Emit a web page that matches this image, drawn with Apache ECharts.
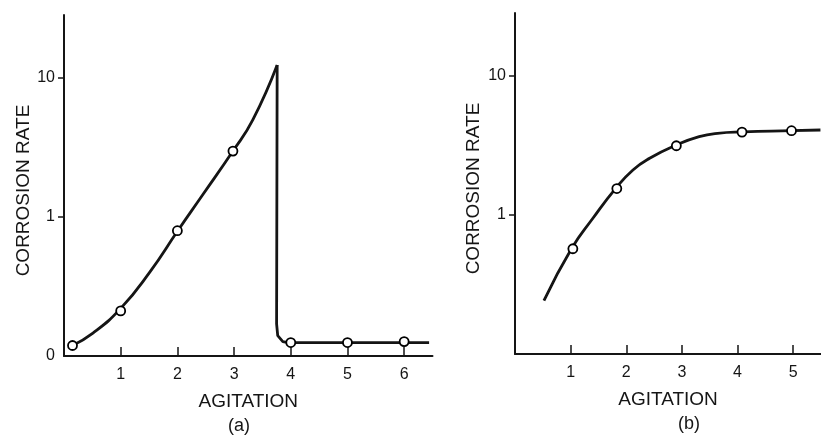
<!DOCTYPE html>
<html>
<head>
<meta charset="utf-8">
<script src="https://cdn.jsdelivr.net/npm/echarts@6/dist/echarts.min.js"></script>
<style>
    html, body { margin: 0; padding: 0; background: #fff; }
    #chart { width: 821px; height: 437px; }
</style>
</head>
<body>
<div id="chart"></div>
<script>

// panel (a): rising curve, sudden drop, flat tail
const curveA = [[0.15, 0.119], [0.51, 0.146], [1.0, 0.22], [1.51, 0.40], [2.01, 0.80], [2.45, 1.45], [2.98, 2.98], [3.33, 4.99], [3.76, 12.4]];
const dropA = [[3.76, 12.4], [3.75, 0.17], [3.77, 0.14], [3.86, 0.127], [3.95, 0.125], [6.44, 0.125]];
const pointsA = [[0.15, 0.119], [1, 0.211], [2, 0.797], [2.98, 2.98], [4, 0.125], [5, 0.125], [6, 0.127]];

// panel (b): saturating curve
const curveB = [[0.52, 0.242], [1.02, 0.576], [1.40, 0.947], [1.81, 1.556], [2.12, 2.11], [2.42, 2.56], [2.90, 3.19], [3.31, 3.66], [3.64, 3.87], [4.10, 3.96], [4.98, 4.04], [5.49, 4.09]];
const pointsB = [[1.04, 0.572], [1.83, 1.55], [2.9, 3.15], [4.08, 3.95], [4.97, 4.04]];

const xTicksA = [1, 2, 3, 4, 5, 6];
const xTicksB = [1, 2, 3, 4, 5];
const yLabelsA = [0.1, 1, 10];
const yLabelsB = [1, 10];
const yTicks = [1, 10];

const ink = '#151515';
const font = 'Liberation Sans, Arial, sans-serif';

const xAxis = (gridIndex, max, ticks) => ({
    type: 'value',
    gridIndex: gridIndex,
    min: 0,
    max: max,
    name: 'AGITATION',
    nameLocation: 'middle',
    nameGap: 36,
    nameTextStyle: { color: ink, fontFamily: font, fontSize: 19 },
    axisLine: { lineStyle: { color: ink, width: 2 } },
    axisTick: { inside: true, length: 9, customValues: ticks, lineStyle: { color: ink, width: 1.5 } },
    axisLabel: { customValues: ticks, margin: 11, color: ink, fontFamily: font, fontSize: 16 },
    splitLine: { show: false },
});

const yAxis = (gridIndex, labels, gap) => ({
    type: 'log',
    logBase: 10,
    gridIndex: gridIndex,
    min: 0.1,
    max: 28.4,
    name: 'CORROSION RATE',
    nameLocation: 'middle',
    nameGap: gap,
    nameTextStyle: { color: ink, fontFamily: font, fontSize: 19, padding: [0, 10, 0, 0] },
    axisLine: { show: true, lineStyle: { color: ink, width: 2 } },
    axisTick: { show: true, length: 6, customValues: yTicks, lineStyle: { color: ink, width: 1.5 } },
    axisLabel: {
        customValues: labels,
        margin: 9,
        color: ink,
        fontFamily: font,
        fontSize: 16,
        formatter: (v) => (v < 0.5 ? '0' : String(Math.round(v))),
    },
    splitLine: { show: false },
    minorTick: { show: false },
});

const curve = (name, i, data, smooth) => ({
    name: name,
    type: 'line',
    xAxisIndex: i,
    yAxisIndex: i,
    data: data,
    smooth: smooth,
    showSymbol: false,
    lineStyle: { color: ink, width: 2.8 },
    z: 2,
});

const dots = (name, i, data) => ({
    name: name,
    type: 'scatter',
    xAxisIndex: i,
    yAxisIndex: i,
    data: data,
    symbol: 'circle',
    symbolSize: 9,
    itemStyle: { color: '#ffffff', borderColor: '#000', borderWidth: 1.8, opacity: 1 },
    emphasis: { disabled: true },
    z: 3,
});

const chart = echarts.init(document.getElementById('chart'));

chart.setOption({
    animation: false,
    backgroundColor: '#fff',
    grid: [
        { left: 64, top: 15, width: 368.5, height: 341 },
        { left: 515, top: 13, width: 306.6, height: 341 },
    ],
    xAxis: [
        xAxis(0, 6.5, xTicksA),
        xAxis(1, 5.5, xTicksB),
    ],
    yAxis: [
        yAxis(0, yLabelsA, 31),
        yAxis(1, yLabelsB, 32),
    ],
    graphic: [
        { type: 'text', left: 228, top: 417, style: { text: '(a)', fill: ink, font: '18px ' + font } },
        { type: 'text', left: 678, top: 415, style: { text: '(b)', fill: ink, font: '18px ' + font } },
    ],
    series: [
        curve('curveA', 0, curveA, 0.5),
        curve('dropA', 0, dropA, false),
        dots('pointsA', 0, pointsA),
        curve('curveB', 1, curveB, 0.5),
        dots('pointsB', 1, pointsB),
    ],
});

</script>
</body>
</html>
